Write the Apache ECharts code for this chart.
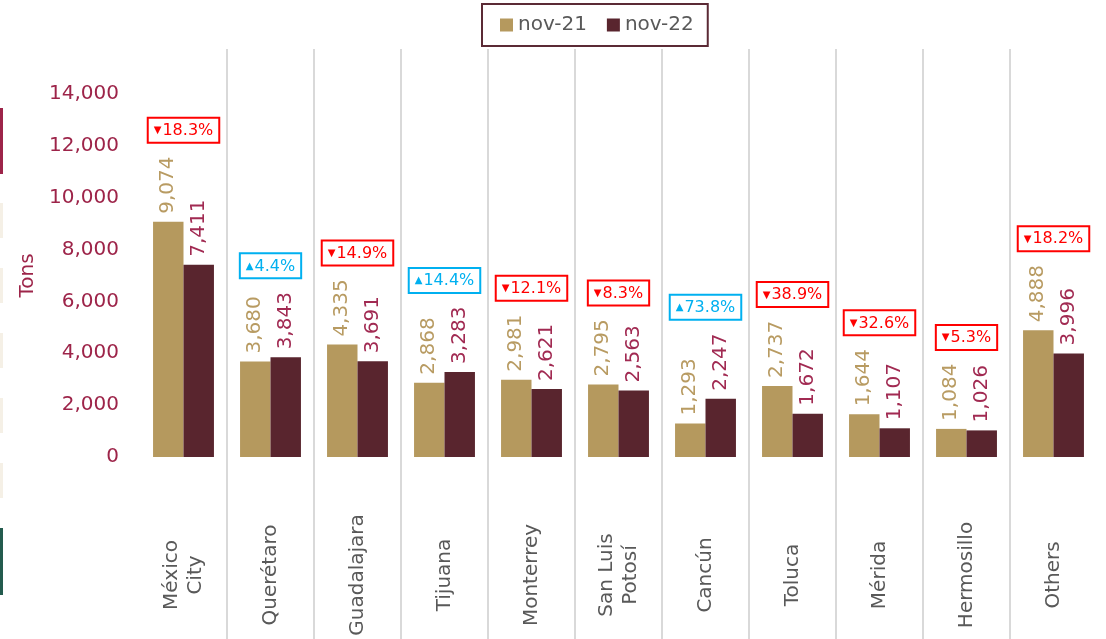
<!DOCTYPE html>
<html>
<head>
<meta charset="utf-8">
<script src="https://cdn.jsdelivr.net/npm/echarts@6/dist/echarts.min.js"></script>
<style>
  html, body { margin: 0; padding: 0; background: #fff; }
  #main { width: 1106px; height: 639px; }
</style>
</head>
<body>
<div id="main"></div>
<script>
// cities and tons per month
var cities = ['México\nCity', 'Querétaro', 'Guadalajara', 'Tijuana', 'Monterrey', 'San Luis\nPotosí', 'Cancún', 'Toluca', 'Mérida', 'Hermosillo', 'Others'];
var nov21 = [9074, 3680, 4335, 2868, 2981, 2795, 1293, 2737, 1644, 1084, 4888];
var nov22 = [7411, 3843, 3691, 3283, 2621, 2563, 2247, 1672, 1107, 1026, 3996];
// % change shown in the boxes
var change = [-18.3, 4.4, -14.9, 14.4, -12.1, -8.3, 73.8, -38.9, -32.6, -5.3, -18.2];
var yTicks = [0, 2000, 4000, 6000, 8000, 10000, 12000, 14000];

var FONT = 'DejaVu Sans';
var tan = '#B5995E';
var wine = '#59252E';
var crimson = '#9D2449';
var red = '#FF0000';
var blue = '#00B0F0';

var boxData = nov21.map(function (v, i) {
  return {
    value: Math.max(v, nov22[i]),
    chg: change[i],
    label: { borderColor: change[i] < 0 ? red : blue }
  };
});

function fmt(n) {
  return n.toLocaleString('en-US');
}

function valueLabel(color) {
  return {
    show: true,
    position: 'top',
    rotate: 90,
    align: 'left',
    verticalAlign: 'middle',
    distance: 8,
    fontSize: 20,
    color: color,
    fontFamily: FONT,
    formatter: function (p) { return fmt(p.value); }
  };
}

var myChart = echarts.init(document.getElementById('main'));
myChart.setOption({
  animation: false,
  textStyle: { fontFamily: FONT },
  legend: {
    data: ['nov-21', 'nov-22'],
    left: 482,
    top: 4,
    padding: [11, 14, 11, 18],
    borderColor: '#5B2A35',
    borderWidth: 2,
    itemWidth: 13,
    itemHeight: 13,
    itemGap: 20,
    icon: 'rect',
    textStyle: { fontSize: 20, color: '#595959', fontFamily: FONT }
  },
  grid: [
    { left: 140, right: 9, top: 94, bottom: 182 },
    { left: 140, right: 9, top: 49, bottom: -5 }
  ],
  xAxis: [
    {
      type: 'category',
      gridIndex: 0,
      data: cities,
      axisLine: { show: false },
      axisTick: { show: false },
      splitLine: { show: false },
      axisLabel: {
        rotate: 90,
        align: 'center',
        verticalAlign: 'middle',
        margin: 118,
        fontSize: 20,
        lineHeight: 24,
        color: '#595959',
        fontFamily: FONT,
        interval: 0
      }
    },
    {
      type: 'category',
      gridIndex: 0,
      data: cities,
      show: false
    },
    {
      type: 'category',
      gridIndex: 1,
      data: cities,
      axisLine: { show: false },
      axisTick: { show: false },
      axisLabel: { show: false },
      splitLine: {
        show: true,
        showMinLine: false,
        showMaxLine: false,
        interval: 0,
        lineStyle: { color: '#CCCCCC', width: 1.5 }
      }
    }
  ],
  yAxis: [
    {
      type: 'value',
      gridIndex: 0,
      min: yTicks[0],
      max: yTicks[yTicks.length - 1],
      interval: 2000,
      name: 'Tons',
      nameLocation: 'middle',
      nameGap: 90,
      nameTextStyle: { fontSize: 20, color: crimson, fontFamily: FONT },
      axisLine: { show: false },
      axisTick: { show: false },
      splitLine: { show: false },
      axisLabel: {
        margin: 21,
        fontSize: 20,
        color: crimson,
        fontFamily: FONT,
        formatter: function (v) { return fmt(v); }
      }
    },
    {
      type: 'value',
      gridIndex: 1,
      show: false,
      splitLine: { show: false }
    }
  ],
  series: [
    {
      name: 'nov-21',
      type: 'bar',
      xAxisIndex: 0,
      yAxisIndex: 0,
      data: nov21,
      barGap: '0%',
      barCategoryGap: '30%',
      itemStyle: { color: tan },
      label: valueLabel('#B89B62')
    },
    {
      name: 'nov-22',
      type: 'bar',
      xAxisIndex: 0,
      yAxisIndex: 0,
      data: nov22,
      itemStyle: { color: wine },
      label: valueLabel('#A12A52')
    },
    {
      name: 'change',
      type: 'bar',
      xAxisIndex: 1,
      yAxisIndex: 0,
      data: boxData,
      barWidth: 1,
      itemStyle: { color: 'rgba(0,0,0,0)' },
      silent: true,
      label: {
        show: true,
        position: 'top',
        distance: 80,
        formatter: function (p) {
          var c = p.data.chg;
          if (c < 0) return '{dn|▼}{r|' + Math.abs(c).toFixed(1) + '%}';
          return '{up|▲}{b|' + c.toFixed(1) + '%}';
        },
        rich: {
          dn: { fontSize: 10, color: red, fontFamily: FONT, padding: [0, 1, 0, 0] },
          up: { fontSize: 10, color: blue, fontFamily: FONT, padding: [0, 1, 0, 0] },
          r: { fontSize: 16, color: red, fontFamily: FONT },
          b: { fontSize: 16, color: blue, fontFamily: FONT }
        },
        backgroundColor: '#fff',
        borderWidth: 2,
        borderColor: red,
        padding: [4, 5, 3, 5]
      }
    }
  ],
  graphic: [
    { type: 'rect', left: 0, top: 108, shape: { width: 3, height: 66 }, style: { fill: crimson } },
    { type: 'rect', left: 0, top: 203, shape: { width: 3, height: 35 }, style: { fill: '#F5F0E6' } },
    { type: 'rect', left: 0, top: 268, shape: { width: 3, height: 35 }, style: { fill: '#F5F0E6' } },
    { type: 'rect', left: 0, top: 333, shape: { width: 3, height: 35 }, style: { fill: '#F5F0E6' } },
    { type: 'rect', left: 0, top: 398, shape: { width: 3, height: 35 }, style: { fill: '#F5F0E6' } },
    { type: 'rect', left: 0, top: 463, shape: { width: 3, height: 35 }, style: { fill: '#F5F0E6' } },
    { type: 'rect', left: 0, top: 528, shape: { width: 3, height: 67 }, style: { fill: '#235B4E' } }
  ]
});
</script>
</body>
</html>
